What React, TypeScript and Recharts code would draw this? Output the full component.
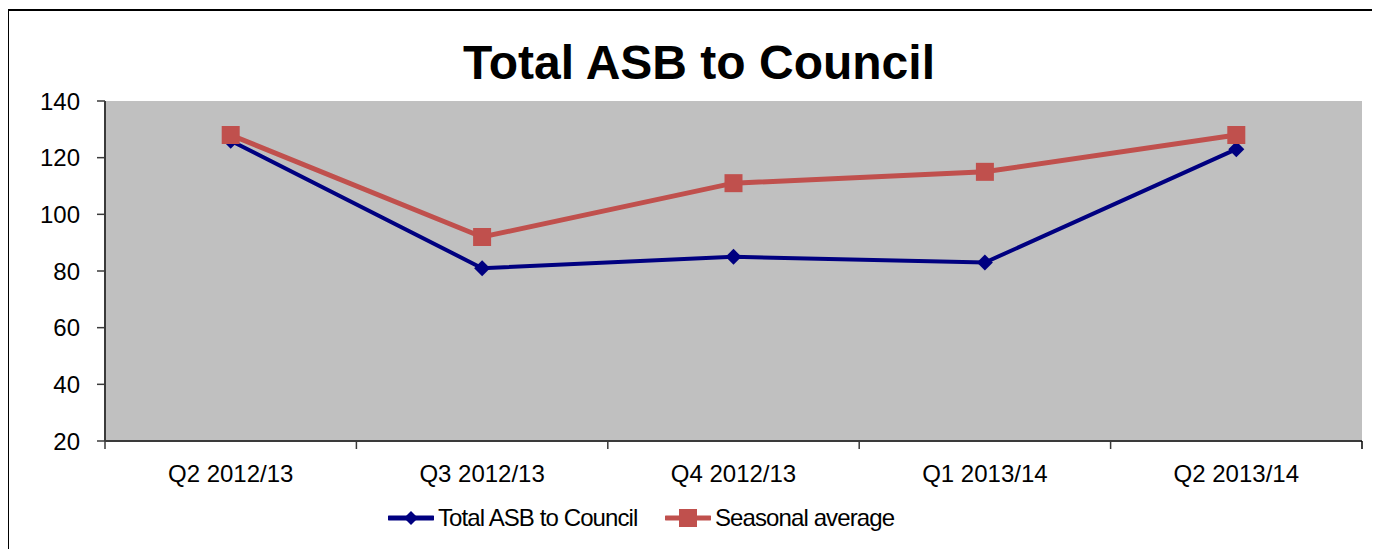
import React from 'react';
import {
  LineChart,
  Line,
  XAxis,
  YAxis,
  Legend,
  CartesianGrid,
} from 'recharts';

const quarters = ['Q2 2012/13', 'Q3 2012/13', 'Q4 2012/13', 'Q1 2013/14', 'Q2 2013/14'];
const totalAsb = [126, 81, 85, 83, 123];
const seasonalAvg = [128, 92, 111, 115, 128];
const yTicks = [20, 40, 60, 80, 100, 120, 140];

const data = quarters.map((q, i) => ({
  name: q,
  total: totalAsb[i],
  seasonal: seasonalAvg[i],
}));

const FONT = '"Liberation Sans", Arial, sans-serif';
const NAVY = '#000080';
const RED = '#C0504D';
const AXIS = '#3a3a3a';

const W = 1380;
const H = 540;
const PLOT_LEFT = 96;
const PLOT_RIGHT = 1353;
const BAND = (PLOT_RIGHT - PLOT_LEFT) / quarters.length;

function Diamond(props: any) {
  const { cx, cy } = props;
  if (cx == null || cy == null) return null;
  const r = 8;
  return (
    <path
      d={`M${cx},${cy - r} L${cx + r},${cy} L${cx},${cy + r} L${cx - r},${cy} Z`}
      fill={NAVY}
    />
  );
}

function Square(props: any) {
  const { cx, cy } = props;
  if (cx == null || cy == null) return null;
  const s = 9;
  return <rect x={cx - s} y={cy - s} width={s * 2} height={s * 2} fill={RED} />;
}

// category label in the band centre, tick marks on the band edges (Excel style)
function QuarterTick(props: any) {
  const { x, y, payload, index } = props;
  const left = x - BAND / 2;
  const right = x + BAND / 2;
  return (
    <g>
      <line x1={left} y1={y} x2={left} y2={y + 8} stroke={AXIS} strokeWidth={1.5} />
      {index === quarters.length - 1 && (
        <line x1={right} y1={y} x2={right} y2={y + 8} stroke="#000" strokeWidth={1.5} />
      )}
      <text
        x={x}
        y={y + 24}
        dy="0.71em"
        textAnchor="middle"
        fill="#000"
        fontSize={24}
        fontFamily={FONT}
      >
        {payload.value}
      </text>
    </g>
  );
}

function LegendBox() {
  const item = (left: number, color: string, marker: React.ReactNode, label: string) => (
    <div
      style={{
        position: 'absolute',
        left,
        top: 0,
        height: 40,
        display: 'flex',
        alignItems: 'center',
      }}
    >
      <svg width={46} height={20} style={{ display: 'block' }}>
        <line x1={1} y1={10} x2={45} y2={10} stroke={color} strokeWidth={5} strokeLinecap="round" />
        {marker}
      </svg>
      <span style={{ marginLeft: 4, fontSize: 24, letterSpacing: -0.9, color: '#000' }}>{label}</span>
    </div>
  );
  return (
    <div style={{ position: 'relative', width: W, height: 40, fontFamily: FONT }}>
      {item(379, NAVY, <path d="M23,3 L30,10 L23,17 L16,10 Z" fill={NAVY} />, 'Total ASB to Council')}
      {item(656, RED, <rect x={14} y={1} width={18} height={18} fill={RED} />, 'Seasonal average')}
    </div>
  );
}

export default function App() {
  return (
    <div
      style={{
        position: 'relative',
        top: 1,
        width: W,
        height: 560,
        border: '1px solid #000',
        borderTopWidth: 2,
        background: '#fff',
        fontFamily: FONT,
        boxSizing: 'content-box',
      }}
    >
      <div
        style={{
          position: 'absolute',
          top: 20,
          left: 0,
          width: W,
          textAlign: 'center',
          fontSize: 48,
          fontWeight: 'bold',
          color: '#000',
          lineHeight: '64px',
        }}
      >
        Total ASB to Council
      </div>
      <LineChart
        width={W}
        height={H}
        data={data}
        margin={{ top: 90, right: W - PLOT_RIGHT, bottom: 13, left: 0 }}
      >
        <CartesianGrid horizontal={false} vertical={false} fill="#C0C0C0" fillOpacity={1} />
        <XAxis
          xAxisId="top"
          dataKey="name"
          orientation="top"
          height={0}
          tick={false}
          tickLine={false}
          axisLine={{ stroke: '#808080', strokeWidth: 2 }}
        />
        <YAxis
          yAxisId="right"
          orientation="right"
          domain={[20, 140]}
          width={0}
          tick={false}
          tickLine={false}
          axisLine={{ stroke: '#808080', strokeWidth: 2 }}
        />
        <XAxis
          dataKey="name"
          padding={{ left: BAND / 2, right: BAND / 2 }}
          height={57}
          axisLine={{ stroke: AXIS, strokeWidth: 2 }}
          tickLine={false}
          tickSize={0}
          tickMargin={0}
          interval={0}
          tick={<QuarterTick />}
        />
        <YAxis
          domain={[20, 140]}
          allowDataOverflow
          ticks={yTicks}
          width={PLOT_LEFT}
          tickSize={8}
          tickMargin={17}
          axisLine={{ stroke: AXIS, strokeWidth: 2 }}
          tickLine={{ stroke: AXIS, strokeWidth: 1.5 }}
          tick={{ fill: '#000', fontSize: 24, fontFamily: FONT }}
        />
        <Legend
          verticalAlign="bottom"
          height={40}
          content={() => <LegendBox />}
          wrapperStyle={{ left: 0, width: W, height: 40 }}
        />
        <Line
          dataKey="total"
          name="Total ASB to Council"
          stroke={NAVY}
          strokeWidth={4}
          dot={<Diamond />}
          activeDot={false}
          isAnimationActive={false}
        />
        <Line
          dataKey="seasonal"
          name="Seasonal average"
          stroke={RED}
          strokeWidth={5}
          dot={<Square />}
          activeDot={false}
          isAnimationActive={false}
        />
      </LineChart>
    </div>
  );
}
